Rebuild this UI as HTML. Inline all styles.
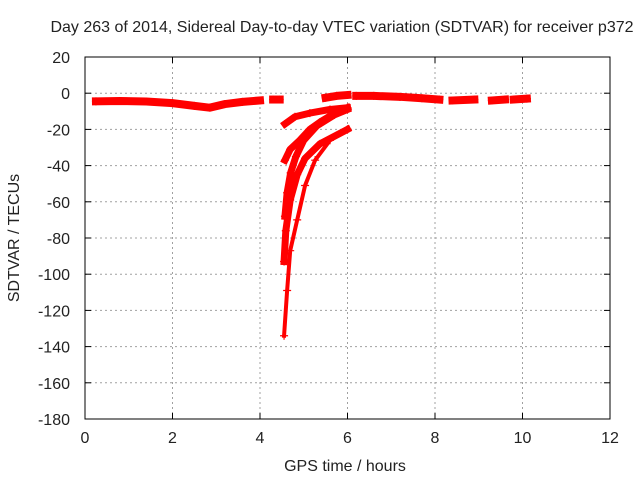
<!DOCTYPE html>
<html><head><meta charset="utf-8"><style>
body{margin:0;background:#fff;width:640px;height:480px;overflow:hidden}
svg{font-family:"Liberation Sans",sans-serif;font-size:16px}
</style></head><body>
<svg id="c" width="640" height="480"></svg>
<script>
const xTicks=[0,2,4,6,8,10,12];
const yTicks=[20,0,-20,-40,-60,-80,-100,-120,-140,-160,-180];
const flat1=[[0.25,-4.5],[0.8,-4.3],[1.4,-4.6],[2.0,-5.5],[2.5,-7],[2.85,-8],[3.2,-6],[3.6,-4.8],[4.0,-4]];
const flat2=[[4.3,-3.5],[4.45,-3.5]];
const flat3=[[5.5,-2.5],[5.75,-1.5],[6.0,-1]];
const flat4=[[6.2,-1.5],[6.6,-1.5],[7.2,-2],[7.7,-2.8],[8.1,-3.5]];
const flat5=[[8.4,-4],[8.9,-3.5]];
const flat6=[[9.3,-4],[9.6,-3.5]];
const flat7=[[9.8,-3.5],[10.1,-3]];
const trackA=[[4.55,-134],[4.62,-109],[4.69,-87],[4.85,-70],[5.03,-51],[5.26,-37],[5.6,-26],[6.0,-20]];
const trackB=[[4.55,-93],[4.59,-76],[4.69,-59],[4.85,-45],[5.03,-36],[5.37,-28],[6.0,-20]];
const trackC=[[4.57,-17],[4.8,-13],[5.14,-11],[5.6,-9],[6.0,-8]];
const trackD=[[4.57,-37],[4.69,-31],[4.91,-26],[5.14,-20],[5.37,-16],[5.71,-11],[6.0,-8]];
const trackE=[[4.57,-68],[4.62,-55],[4.7,-44],[4.82,-35],[5.0,-26],[5.3,-18],[5.7,-12],[6.0,-9]];
const L=85,R=610,T=57,B=419;
const X=t=>L+(t-0)/12*(R-L);
const Y=v=>T+(20-v)/200*(B-T);
const s=document.getElementById('c');const NS='http://www.w3.org/2000/svg';
function mk(tag,at,txt){const e=document.createElementNS(NS,tag);for(const k in at)e.setAttribute(k,at[k]);if(txt!=null)e.textContent=txt;s.appendChild(e);return e;}
xTicks.forEach(t=>{
 if(t>0&&t<12){const g=mk('line',{x1:X(t),x2:X(t),y1:T,y2:B,stroke:'#a0a0a0','stroke-dasharray':'2,3'});
 
 }
 const l=mk('text',{x:X(t),y:B+24,'text-anchor':'middle',fill:'#222'},t);
 
 
 mk('line',{x1:X(t),x2:X(t),y1:B,y2:B-6,stroke:'#000'});mk('line',{x1:X(t),x2:X(t),y1:T,y2:T+6,stroke:'#000'});
});
yTicks.forEach(v=>{
 if(v<20&&v>-180){const g=mk('line',{x1:L,x2:R,y1:Y(v),y2:Y(v),stroke:'#a0a0a0','stroke-dasharray':'2,3'});
 
 }
 const l=mk('text',{x:L-15,y:Y(v)+6,'text-anchor':'end',fill:'#222'},v);
 
 
 mk('line',{x1:L,x2:L+6,y1:Y(v),y2:Y(v),stroke:'#000'});mk('line',{x1:R,x2:R-6,y1:Y(v),y2:Y(v),stroke:'#000'});
});
const fr=mk('rect',{x:L,y:T,width:R-L,height:B-T,fill:'none',stroke:'#000'});


const series=[flat1,flat2,flat3,flat4,flat5,flat6,flat7,trackA,trackB,trackC,trackD,trackE];
series.forEach((d,i)=>{
 const thick=i<7?8:(i===7?4:7);
 const p=mk('polyline',{points:d.map(q=>X(q[0])+','+Y(q[1])).join(' '),fill:'none',stroke:'#f00','stroke-width':thick,'stroke-linejoin':'round','stroke-linecap':'square'});
 
 
 d.forEach(q=>{const x=X(q[0]),y=Y(q[1]);
  const m=mk('path',{d:`M${x-4},${y}H${x+4}M${x},${y-4}V${y+4}`,stroke:'#f00','stroke-width':1.2});
  
  });
});
const ti=mk('text',{x:342,y:32,'text-anchor':'middle',fill:'#222'},'Day 263 of 2014, Sidereal Day-to-day VTEC variation (SDTVAR) for receiver p372');


const xt=mk('text',{x:345,y:471,'text-anchor':'middle',fill:'#222'},'GPS time / hours');


const yt=mk('text',{x:0,y:0,'text-anchor':'middle',fill:'#222',transform:`translate(19,${(T+B)/2}) rotate(-90)`},'SDTVAR / TECUs');


</script>
</body></html>
